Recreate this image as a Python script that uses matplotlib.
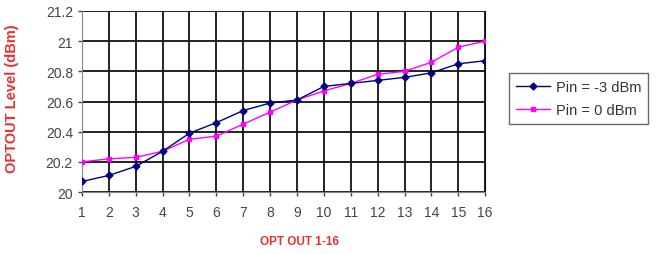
import matplotlib
matplotlib.use("Agg")
import matplotlib.pyplot as plt
import numpy as np

plt.rcParams['font.family'] = ['Liberation Sans', 'DejaVu Sans']

# --- data ---
outputs = np.arange(1, 17)
pin_m3 = [20.07, 20.11, 20.17, 20.27, 20.39, 20.46, 20.54, 20.59,
          20.61, 20.70, 20.72, 20.74, 20.76, 20.79, 20.85, 20.87]
pin_0 = [20.20, 20.22, 20.23, 20.27, 20.35, 20.37, 20.45, 20.53,
         20.61, 20.67, 20.72, 20.78, 20.80, 20.86, 20.96, 21.00]
y_ticks = [20, 20.2, 20.4, 20.6, 20.8, 21, 21.2]
y_labels = ['20', '20.2', '20.4', '20.6', '20.8', '21', '21.2']

fig = plt.figure(figsize=(6.61, 2.55), dpi=100)
ax = fig.add_axes([0.124, 0.243, 0.61, 0.71])

ax.plot(outputs, pin_m3, '-D', color='#000080', markersize=3.5, linewidth=1,
        label='Pin = -3 dBm', zorder=4)
ax.plot(outputs, pin_0, '-s', color='#FF00FF', markersize=3.5, linewidth=1,
        label='Pin = 0 dBm', zorder=3)

ax.set_xlim(1, 16)
ax.set_ylim(20, 21.2)
ax.set_xticks(outputs)
ax.set_yticks(y_ticks)
ax.set_yticklabels(y_labels)
ax.grid(True, color='#111111', linewidth=1.3)
ax.set_axisbelow(True)
for s in ax.spines.values():
    s.set_color('#888888')
ax.spines['top'].set_visible(False)
ax.spines['right'].set_color('#111111')
ax.tick_params(colors='#444444', labelsize=10, length=3, width=1)
ax.tick_params(axis='x', pad=6)

# axis titles
ax.set_ylabel('OPTOUT Level (dBm)', color='#E83030', fontsize=10.5, fontweight='bold')
ax.yaxis.set_label_coords(-0.155, 0.52)
ax.set_xlabel('OPT OUT 1-16', color='#E83030', fontsize=8.5, fontweight='bold')
ax.xaxis.set_label_coords(0.54, -0.235)

leg = fig.legend(loc='upper left', bbox_to_anchor=(0.77, 0.71), fontsize=10.5,
                 frameon=True, fancybox=False, borderaxespad=0, handlelength=2.3,
                 labelspacing=0.6, borderpad=0.5, handletextpad=0.4)
leg.get_frame().set_edgecolor('#444444')
leg.get_frame().set_linewidth(1)
for t in leg.get_texts():
    t.set_color('#333333')

fig.savefig('out.png', dpi=100)
